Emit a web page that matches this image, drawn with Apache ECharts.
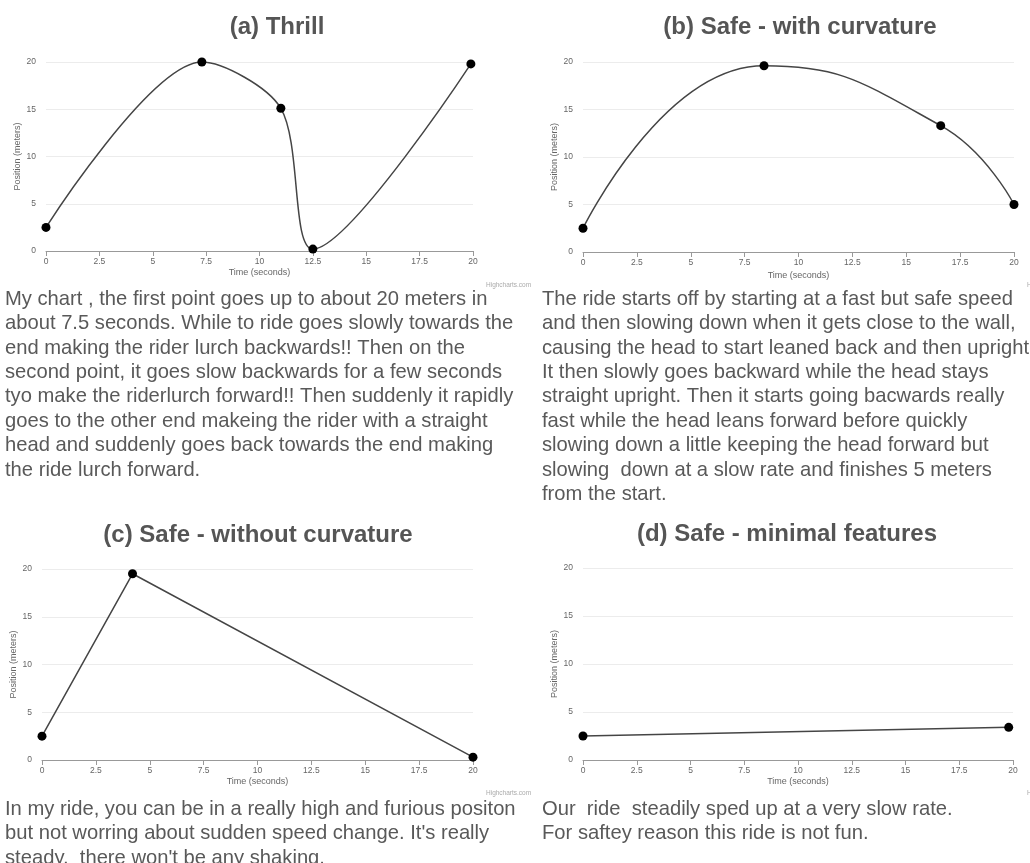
<!DOCTYPE html>
<html>
<head>
<meta charset="utf-8">
<title>Ride position charts</title>
<script src="https://cdn.jsdelivr.net/npm/echarts@6/dist/echarts.min.js"></script>
<style>
  html, body { margin: 0; padding: 0; background: #fff; }
  #chart { width: 1030px; height: 863px; }
</style>
</head>
<body>
<div id="chart"></div>
<script>
// values (time in s, position in m)
const thrillTime = [0, 7.3, 11, 12.5, 19.9];
const thrillPos = [2.5, 20, 15.1, 0.2, 19.8];

const curvedTime = [0, 8.4, 16.6, 20];
const curvedPos = [2.5, 19.6, 13.3, 5];

const straightTime = [0, 4.2, 20];
const straightPos = [2.5, 19.5, 0.3];

const minimalTime = [0, 19.8];
const minimalPos = [2.5, 3.4];

const panelTitles = [
  "(a) Thrill",
  "(b) Safe - with curvature",
  "(c) Safe - without curvature",
  "(d) Safe - minimal features",
];

const textA = [
  "My chart , the first point goes up to about 20 meters in",
  "about 7.5 seconds. While to ride goes slowly towards the",
  "end making the rider lurch backwards!! Then on the",
  "second point, it goes slow backwards for a few seconds",
  "tyo make the riderlurch forward!! Then suddenly it rapidly",
  "goes to the other end makeing the rider with a straight",
  "head and suddenly goes back towards the end making",
  "the ride lurch forward.",
];
const textB = [
  "The ride starts off by starting at a fast but safe speed",
  "and then slowing down when it gets close to the wall,",
  "causing the head to start leaned back and then upright",
  "It then slowly goes backward while the head stays",
  "straight upright. Then it starts going bacwards really",
  "fast while the head leans forward before quickly",
  "slowing down a little keeping the head forward but",
  "slowing  down at a slow rate and finishes 5 meters",
  "from the start.",
];
const textC = [
  "In my ride, you can be in a really high and furious positon",
  "but not worring about sudden speed change. It's really",
  "steady,  there won't be any shaking.",
];
const textD = [
  "Our  ride  steadily sped up at a very slow rate.",
  "For saftey reason this ride is not fun.",
];

const toPairs = (xs, ys) => xs.map((x, i) => [x, ys[i]]);

const grids = [
  { left: 46, top: 62, width: 427, height: 189 },
  { left: 583, top: 62, width: 431, height: 190 },
  { left: 42, top: 569, width: 431, height: 191 },
  { left: 583, top: 568, width: 430, height: 192 },
];

const smallFont = { fontFamily: "Liberation Sans", fontSize: 9, color: "#666" };

const xAxes = grids.map((g, i) => ({
  type: "value",
  gridIndex: i,
  min: 0,
  max: 20,
  interval: 2.5,
  name: "Time (seconds)",
  nameLocation: "middle",
  nameGap: i === 1 ? 19 : 17,
  nameTextStyle: smallFont,
  axisLine: { show: true, lineStyle: { color: "#999", width: 1 } },
  axisTick: { show: true, length: 5, lineStyle: { color: "#999" } },
  axisLabel: { margin: 6, ...smallFont, fontSize: 8.5 },
  splitLine: { show: false },
}));

const yAxes = grids.map((g, i) => ({
  type: "value",
  gridIndex: i,
  min: 0,
  max: 20,
  interval: 5,
  name: "Position (meters)",
  nameLocation: "middle",
  nameGap: 24,
  nameTextStyle: smallFont,
  axisLine: { show: false },
  axisTick: { show: false },
  axisLabel: { margin: 10, ...smallFont, fontSize: 8.5 },
  splitLine: { show: true, lineStyle: { color: "#ececec", width: 1 } },
}));

function rideSeries(idx, data, smooth) {
  return {
    type: "line",
    xAxisIndex: idx,
    yAxisIndex: idx,
    data: data,
    smooth: smooth,
    symbol: "circle",
    symbolSize: 9,
    itemStyle: { color: "#000" },
    lineStyle: { color: "#454545", width: 1.5 },
  };
}

const series = [
  rideSeries(0, toPairs(thrillTime, thrillPos), 0.3),
  rideSeries(1, toPairs(curvedTime, curvedPos), 0.5),
  rideSeries(2, toPairs(straightTime, straightPos), false),
  rideSeries(3, toPairs(minimalTime, minimalPos), false),
];

const titleSpots = [[277, 27], [800, 27], [258, 535], [787, 534]];

function titleText(t, pos) {
  return {
    type: "text",
    x: pos[0],
    y: pos[1],
    style: {
      text: t,
      fill: "#555",
      font: 'bold 24px "Liberation Sans"',
      align: "center",
      verticalAlign: "middle",
    },
  };
}

function paragraph(lines, x, y) {
  return {
    type: "text",
    x: x,
    y: y,
    style: {
      text: lines.join("\n"),
      fill: "#595959",
      font: '20.2px "Liberation Sans"',
      lineHeight: 24.4,
      align: "left",
      verticalAlign: "top",
    },
  };
}

function credit(x, y) {
  return {
    type: "text",
    x: x,
    y: y,
    style: {
      text: "Highcharts.com",
      fill: "#aaa",
      font: '6.5px "Liberation Sans"',
      align: "left",
      verticalAlign: "middle",
    },
  };
}

const graphics = [
  ...panelTitles.map((t, i) => titleText(t, titleSpots[i])),
  paragraph(textA, 5, 287),
  paragraph(textB, 542, 287),
  paragraph(textC, 5, 797),
  paragraph(textD, 542, 797),
  credit(486, 285),
  credit(486, 793),
  credit(1027, 285),
  credit(1027, 793),
];

const chart = echarts.init(document.getElementById("chart"));
chart.setOption({
  animation: false,
  backgroundColor: "#fff",
  grid: grids,
  xAxis: xAxes,
  yAxis: yAxes,
  series: series,
  graphic: graphics,
});
</script>
</body>
</html>
